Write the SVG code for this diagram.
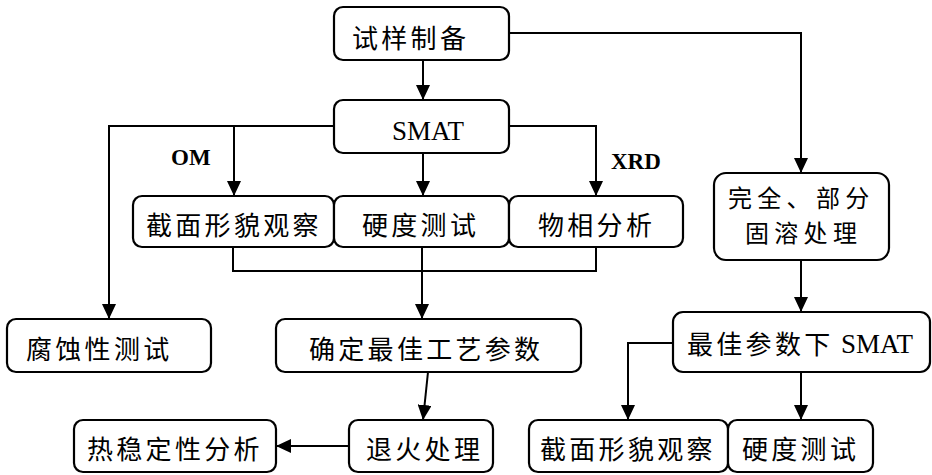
<svg xmlns="http://www.w3.org/2000/svg" width="932" height="475" viewBox="0 0 932 475">
<style>
.box{fill:#fff;stroke:#000;stroke-width:2.2}
.t{font-family:"Noto Sans CJK SC","Noto Sans CJK JP",sans-serif;font-size:26px;letter-spacing:3.3px;fill:#000}
.t2{font-family:"Noto Sans CJK SC","Noto Sans CJK JP",sans-serif;font-size:24px;letter-spacing:5.3px;fill:#000}
.l{font-family:"Liberation Serif",serif;font-size:27px;fill:#000}
.lb{font-family:"Liberation Serif",serif;font-size:23px;font-weight:bold;fill:#000}
.c{fill:none;stroke:#000;stroke-width:2}
</style>
<defs>
<marker id="ah" markerUnits="userSpaceOnUse" markerWidth="15" markerHeight="14" refX="15" refY="7" orient="auto">
<path d="M0,0 L15,7 L0,14 z" fill="#000"/>
</marker>
</defs>
<rect width="932" height="475" fill="#fff"/>
<g id="connectors">
<path class="c" d="M423,60 V100" marker-end="url(#ah)"/>
<path class="c" d="M509,33 H801 V173" marker-end="url(#ah)"/>
<path class="c" d="M334,126 H109 V319" marker-end="url(#ah)"/>
<path class="c" d="M234,126 V196" marker-end="url(#ah)"/>
<path class="c" d="M423,153 V196" marker-end="url(#ah)"/>
<path class="c" d="M509,126 H596 V196" marker-end="url(#ah)"/>
<path class="c" d="M233,247 V271 H596 V247"/>
<path class="c" d="M422,247 V319" marker-end="url(#ah)"/>
<path class="c" d="M428,372 L423,420" marker-end="url(#ah)"/>
<path class="c" d="M349,446 H276" marker-end="url(#ah)"/>
<path class="c" d="M801,260 V312" marker-end="url(#ah)"/>
<path class="c" d="M673,343 H628 V420" marker-end="url(#ah)"/>
<path class="c" d="M801,372 V420" marker-end="url(#ah)"/>
<text class="lb" x="171" y="165">OM</text>
<text class="lb" x="611" y="169">XRD</text>
</g>
<g id="n1"><rect class="box" x="334" y="7" width="175" height="53" rx="9"/><text class="t" x="352" y="48">试样制备</text></g>
<g id="n2"><rect class="box" x="334" y="100" width="175" height="53" rx="9"/><text class="l" x="392" y="140">SMAT</text></g>
<g id="n3"><rect class="box" x="133" y="196" width="201" height="51" rx="9"/><text class="t" x="146" y="235">截面形貌观察</text></g>
<g id="n4"><rect class="box" x="334" y="196" width="175" height="51" rx="9"/><text class="t" x="362" y="235">硬度测试</text></g>
<g id="n5"><rect class="box" x="509" y="196" width="174" height="51" rx="9"/><text class="t" x="538" y="235">物相分析</text></g>
<g id="n6"><rect class="box" x="714" y="173" width="175" height="87" rx="12"/><text class="t2"><tspan x="728" y="207">完全、部分</tspan><tspan x="745" y="242">固溶处理</tspan></text></g>
<g id="n7"><rect class="box" x="7" y="319" width="204" height="53" rx="9"/><text class="t" x="26" y="359">腐蚀性测试</text></g>
<g id="n8"><rect class="box" x="276" y="319" width="305" height="53" rx="9"/><text class="t" x="309" y="359">确定最佳工艺参数</text></g>
<g id="n9"><rect class="box" x="673" y="312" width="257" height="60" rx="10"/><text class="t" x="687" y="354">最佳参数下</text><text class="l" x="841" y="353">SMAT</text></g>
<g id="n10"><rect class="box" x="349" y="420" width="144" height="52" rx="9"/><text class="t" x="366" y="459">退火处理</text></g>
<g id="n11"><rect class="box" x="74" y="420" width="202" height="52" rx="9"/><text class="t" x="87" y="459">热稳定性分析</text></g>
<g id="n12"><rect class="box" x="529" y="420" width="199" height="52" rx="9"/><text class="t" x="540" y="459">截面形貌观察</text></g>
<g id="n13"><rect class="box" x="728" y="420" width="145" height="52" rx="9"/><text class="t" x="742" y="459">硬度测试</text></g>
</svg>
